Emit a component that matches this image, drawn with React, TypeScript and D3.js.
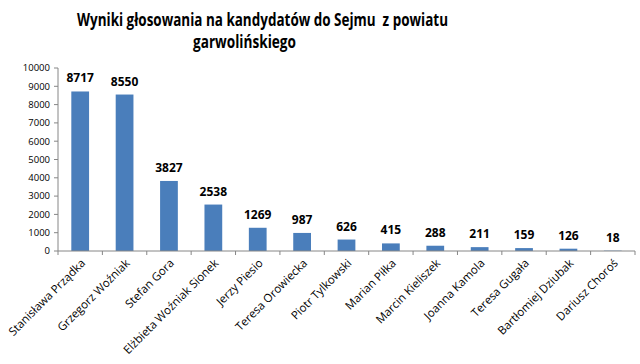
import React from 'react';
import { scaleBand, scaleLinear } from 'd3';

const candidates = [
  'Stanisława Prządka',
  'Grzegorz Woźniak',
  'Stefan Gora',
  'Elżbieta Woźniak Sionek',
  'Jerzy Piesio',
  'Teresa Orowiecka',
  'Piotr Tylkowski',
  'Marian Piłka',
  'Marcin Kieliszek',
  'Joanna Kamola',
  'Teresa Gugała',
  'Bartłomiej Dziubak',
  'Dariusz Choroś',
];
const votes = [8717, 8550, 3827, 2538, 1269, 987, 626, 415, 288, 211, 159, 126, 18];
const yTicks = [0, 1000, 2000, 3000, 4000, 5000, 6000, 7000, 8000, 9000, 10000];
const titleLines = ['Wyniki głosowania na kandydatów do Sejmu\u00a0 z powiatu', 'garwolińskiego'];

const width = 640;
const height = 364;
const margin = { top: 68, right: 5, bottom: 113, left: 58 };
const font = "'Open Sans', 'Liberation Sans', sans-serif";

const App = () => {
  const innerWidth = width - margin.left - margin.right;
  const innerHeight = height - margin.top - margin.bottom;

  const xScale = scaleBand()
    .domain(candidates)
    .range([0, innerWidth])
    .paddingInner(0.6)
    .paddingOuter(0.3);

  const band = innerWidth / candidates.length;

  const yScale = scaleLinear()
    .domain([0, 10000])
    .range([innerHeight, 0]);

  return (
    <svg width={width} height={height} style={{ position: 'absolute', left: 0, top: 0, background: '#fff' }}>
      <text x={77} y={26} textLength={371} lengthAdjust="spacingAndGlyphs"
        fontFamily={font} fontWeight="bold" fontSize={17} fill="#000">
        {titleLines[0]}
      </text>
      <text x={193} y={48} textLength={103} lengthAdjust="spacingAndGlyphs"
        fontFamily={font} fontWeight="bold" fontSize={17} fill="#000">
        {titleLines[1]}
      </text>

      <g transform={`translate(${margin.left}, ${margin.top})`}>
        {/* y axis */}
        <line x1={0} y1={0} x2={0} y2={innerHeight} stroke="#868686" />
        {yTicks.map(t => (
          <g key={t} transform={`translate(0, ${yScale(t)})`}>
            <line x1={-4} x2={0} y1={0} y2={0} stroke="#868686" />
            <text x={-8} dy=".35em" textAnchor="end" fontFamily={font} fontSize={9.5} fill="#000">
              {t}
            </text>
          </g>
        ))}

        {/* bars */}
        {candidates.map((c, i) => (
          <rect
            key={c}
            x={xScale(c)}
            y={yScale(votes[i])}
            width={xScale.bandwidth()}
            height={innerHeight - yScale(votes[i])}
            fill="#4a7ebb"
          />
        ))}

        {/* value labels */}
        {candidates.map((c, i) => (
          <text
            key={c}
            x={xScale(c) + xScale.bandwidth() / 2}
            y={yScale(votes[i]) - 9}
            textAnchor="middle"
            fontFamily={font}
            fontWeight="bold"
            fontSize={12}
            fill="#000"
          >
            {votes[i]}
          </text>
        ))}

        {/* x axis */}
        <line x1={0} y1={innerHeight} x2={innerWidth} y2={innerHeight} stroke="#868686" />
        {candidates.concat(['']).map((c, i) => (
          <line key={i} x1={i * band} x2={i * band} y1={innerHeight} y2={innerHeight + 4} stroke="#868686" />
        ))}
        {candidates.map(c => {
          const cx = xScale(c) + xScale.bandwidth() / 2 + 3;
          const cy = innerHeight + 10;
          return (
            <text
              key={c}
              transform={`translate(${cx}, ${cy}) rotate(-45)`}
              textAnchor="end"
              dy=".35em"
              fontFamily={font}
              fontSize={11.5}
              fill="#000"
            >
              {c}
            </text>
          );
        })}
      </g>
    </svg>
  );
};

export default App;
